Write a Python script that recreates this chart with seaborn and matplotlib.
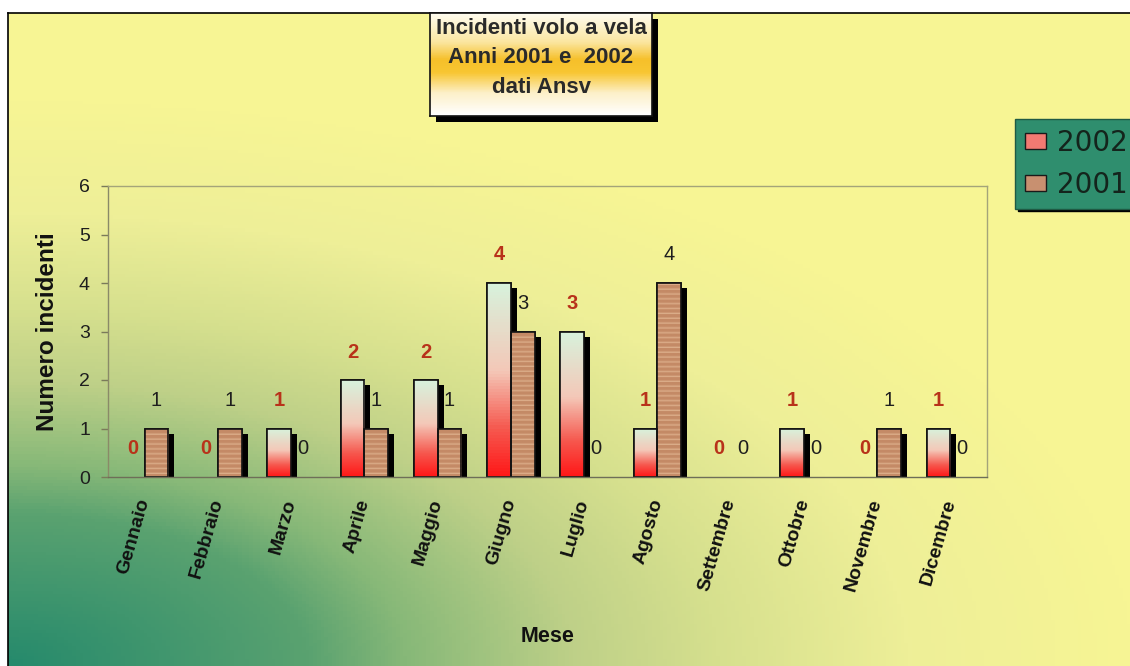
import numpy as np
import pandas as pd
import seaborn as sns
import matplotlib.pyplot as plt
from matplotlib import patheffects as pe
from matplotlib.colors import LinearSegmentedColormap
from matplotlib.patches import Rectangle

# Dati
mesi = ['Gennaio', 'Febbraio', 'Marzo', 'Aprile', 'Maggio', 'Giugno',
        'Luglio', 'Agosto', 'Settembre', 'Ottobre', 'Novembre', 'Dicembre']
anni = ['2002', '2001']
inc_2002 = [0, 0, 1, 2, 2, 4, 3, 1, 0, 1, 0, 1]
inc_2001 = [1, 1, 0, 1, 1, 3, 0, 4, 0, 0, 1, 0]
titolo = ['Incidenti volo a vela', 'Anni 2001 e  2002', 'dati Ansv']

data = pd.DataFrame({
    'Mese': mesi * 2,
    'Anno': ['2002'] * len(mesi) + ['2001'] * len(mesi),
    'Incidenti': inc_2002 + inc_2001,
})

sns.set_theme(style='white')
plt.rcParams['font.family'] = ['Liberation Sans', 'DejaVu Sans']

W, H = 1130, 666
fig = plt.figure(figsize=(W / 100, H / 100), dpi=100)
fig.patch.set_facecolor('white')

# Sfondo sfumato verde -> giallo
bg = fig.add_axes([8 / W, 0, 1, 1 - 13 / H])
yy, xx = np.mgrid[0:1:200j, 0:1:300j]
t = np.clip(np.sqrt(xx ** 2 + (1.15 * yy) ** 2), 0, 1)
bg_cmap = LinearSegmentedColormap.from_list('bg', [
    (0.0, '#268a6c'), (0.265, '#5aa270'), (0.35, '#86b878'), (0.5, '#bed088'),
    (0.63, '#d6e08e'), (0.8, '#eeef98'), (1.0, '#f7f594')])
bg.imshow(t, cmap=bg_cmap, extent=(0, 1, 0, 1), origin='lower',
          aspect='auto', vmin=0, vmax=1)
bg.set_xlim(0, 1)
bg.set_ylim(0, 1)
bg.set_xticks([])
bg.set_yticks([])
for side in ['right', 'bottom']:
    bg.spines[side].set_visible(False)
for side in ['left', 'top']:
    bg.spines[side].set_color('black')
    bg.spines[side].set_linewidth(1.2)

# Grafico
ax = fig.add_axes([108 / W, 1 - 477 / H, 879 / W, 291 / H])
ax.patch.set_alpha(0)
sns.barplot(data=data, x='Mese', y='Incidenti', hue='Anno', hue_order=anni,
            width=0.65, palette=['#f07070', '#c89070'], edgecolor='#111111',
            linewidth=1.2, errorbar=None, ax=ax)

cmap_2002 = LinearSegmentedColormap.from_list('c2002', [
    (0.0, '#ff1818'), (0.25, '#f65a50'), (0.55, '#f4c8b8'), (1.0, '#d8f2dc')])
cmap_2001 = LinearSegmentedColormap.from_list('c2001', ['#c48a66', '#dcae8a'])

shadow = [pe.SimplePatchShadow(offset=(4.3, -3.6), shadow_rgbFace='black', alpha=1),
          pe.Normal()]

label_style = {
    '2002': dict(color='#b8321a', fontweight='bold'),
    '2001': dict(color='#1e1e1e', fontweight='normal'),
}

for anno, cont in zip(anni, ax.containers):
    for bar in cont:
        x0, w, h = bar.get_x(), bar.get_width(), bar.get_height()
        ax.annotate(f'{h:.0f}', (x0 + w / 2, h), xytext=(0, 28),
                    textcoords='offset pixels', ha='center', va='center',
                    fontsize=14.5, **label_style[anno])
        if h == 0:
            bar.set_visible(False)
            continue
        bar.set_path_effects(shadow)
        if anno == '2002':
            grad = np.linspace(0, 1, 64).reshape(-1, 1)
            im = ax.imshow(grad, cmap=cmap_2002, extent=(x0, x0 + w, 0, h),
                           origin='lower', aspect='auto', zorder=bar.get_zorder() + 0.1)
        else:
            n = int(round(h * 10))
            stripes = np.tile([0.0, 0.0, 0.0, 1.0, 0.4], n).reshape(-1, 1)
            im = ax.imshow(stripes, cmap=cmap_2001, extent=(x0, x0 + w, 0, h),
                           origin='lower', aspect='auto', interpolation='bilinear',
                           zorder=bar.get_zorder() + 0.1)
        im.set_clip_path(bar)
        ax.add_patch(Rectangle((x0, 0), w, h, fill=False, edgecolor='#111111',
                               linewidth=1.2, zorder=bar.get_zorder() + 0.2))

ax.set_xlim(-0.5, len(mesi) - 0.5)
ax.set_ylim(0, 6)
ax.set_yticks(range(0, 7))
ax.tick_params(axis='y', left=True, length=5, width=1, color='#7a7a5a',
               pad=8, labelsize=14, labelcolor='#1e1e1e')
ax.tick_params(axis='x', bottom=False, pad=10)
for lab in ax.get_xticklabels():
    lab.set_rotation(74)
    lab.set_ha('right')
    lab.set_va('center')
    lab.set_rotation_mode('anchor')
    lab.set_fontweight('bold')
    lab.set_fontsize(14)
    lab.set_color('#111111')

for side in ['top', 'right', 'left', 'bottom']:
    ax.spines[side].set_visible(True)
    ax.spines[side].set_color('#a4a47a')
    ax.spines[side].set_linewidth(1)
ax.spines['bottom'].set_color('#6e6e58')
ax.spines['left'].set_color('#8a8a68')

ax.set_xlabel('Mese', fontsize=15.5, fontweight='bold', color='#111111')
ax.set_ylabel('Numero incidenti', fontsize=17.5, fontweight='bold', color='#111111')
ax.xaxis.set_label_coords(0.5, (477 - 636) / 291)
ax.yaxis.set_label_coords((48 - 108) / 879, 0.5)
ax.xaxis.label.set_va('center')
ax.yaxis.label.set_va('center')

# Legenda
old = ax.get_legend()
handles = old.legend_handles
labels = [txt.get_text() for txt in old.get_texts()]
old.remove()
handles[0].set_facecolor('#f27a72')
handles[1].set_facecolor('#c89070')
for hd in handles:
    hd.set_edgecolor('#1a1a1a')
    hd.set_linewidth(1)
leg = ax.legend(handles, labels, loc='upper left',
                bbox_to_anchor=(1015 / W, 1 - 119 / H), bbox_transform=fig.transFigure,
                frameon=True, fancybox=False, facecolor='#2f8e6e', edgecolor='#1f5a44',
                framealpha=1, shadow={'color': 'black', 'alpha': 1},
                prop={'family': 'DejaVu Sans', 'size': 20},
                handlelength=0.75, handleheight=0.5, handletextpad=0.4,
                labelspacing=0.51, borderpad=0.35, borderaxespad=0)
for txt in leg.get_texts():
    txt.set_color('#14241c')

# Riquadro del titolo
tx0, ty0, tw, th = 430, 13, 222, 103
fig.patches.append(Rectangle(((tx0 + 6) / W, 1 - (ty0 + th + 6) / H), tw / W, th / H,
                             transform=fig.transFigure, facecolor='black',
                             edgecolor='none', zorder=5))
tax = fig.add_axes([tx0 / W, 1 - (ty0 + th) / H, tw / W, th / H], zorder=6)
title_cmap = LinearSegmentedColormap.from_list('tt', [
    (0.0, '#ffffff'), (0.22, '#fdf0c8'), (0.42, '#f8c632'), (0.55, '#f6c02a'),
    (0.72, '#fbe6a0'), (1.0, '#fffcee')])
tax.imshow(np.linspace(0, 1, 64).reshape(-1, 1), cmap=title_cmap, extent=(0, 1, 0, 1),
           origin='lower', aspect='auto')
tax.set_xlim(0, 1)
tax.set_ylim(0, 1)
tax.set_xticks([])
tax.set_yticks([])
for sp in tax.spines.values():
    sp.set_color('#111111')
    sp.set_linewidth(1.2)
for i, riga in enumerate(titolo):
    tax.text(0.5, 0.85 - i * 0.285, riga, ha='center', va='center',
             fontsize=16, fontweight='bold', color='#2a2a2a')

fig.savefig('out.png', dpi=100)
